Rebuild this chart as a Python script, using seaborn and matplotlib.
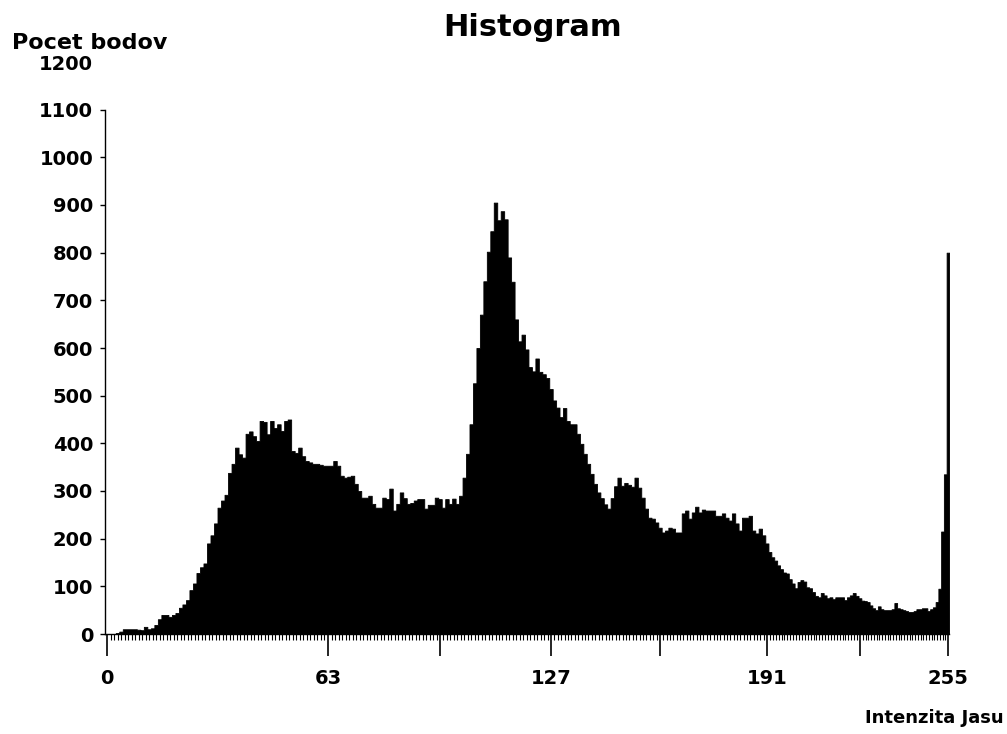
import numpy as np
import matplotlib
matplotlib.use("Agg")
import matplotlib.pyplot as plt
from matplotlib.ticker import MultipleLocator, FixedLocator
import seaborn as sns

# ---- data ----
intensity = list(range(256))
counts = [
    0, 0, 0, 2, 5, 10, 10, 10, 10, 9,                         # 0-9
    8, 15, 10, 12, 19, 31, 40, 40, 36, 40,                    # 10-19
    44, 55, 62, 71, 92, 106, 128, 140, 148, 190,              # 20-29
    207, 232, 265, 280, 292, 338, 357, 391, 377, 370,         # 30-39
    420, 425, 415, 405, 447, 445, 419, 447, 432, 440,         # 40-49
    426, 447, 450, 384, 380, 391, 373, 363, 360, 357,         # 50-59
    357, 355, 353, 353, 353, 363, 353, 332, 328, 330,         # 60-69
    332, 315, 300, 286, 286, 290, 273, 265, 265, 286,         # 70-79
    283, 305, 259, 273, 297, 285, 273, 275, 280, 283,         # 80-89
    283, 263, 271, 271, 286, 283, 265, 283, 273, 284,         # 90-99
    273, 290, 328, 378, 440, 526, 600, 670, 740, 802,         # 100-109
    845, 905, 868, 887, 870, 790, 739, 660, 614, 628,         # 110-119
    597, 560, 551, 578, 550, 545, 537, 514, 490, 475,         # 120-129
    455, 474, 447, 440, 440, 420, 399, 378, 357, 336,         # 130-139
    315, 297, 285, 272, 263, 285, 310, 328, 311, 317,         # 140-149
    313, 309, 328, 307, 286, 263, 244, 242, 234, 223,         # 150-159
    213, 217, 223, 221, 213, 213, 253, 259, 242, 255,         # 160-169
    267, 255, 261, 259, 259, 259, 248, 248, 253, 244,         # 170-179
    238, 253, 232, 217, 244, 244, 248, 217, 211, 221,         # 180-189
    207, 190, 172, 161, 154, 144, 136, 129, 127, 115,         # 190-199
    106, 96, 109, 113, 110, 98, 96, 88, 80, 77,               # 200-209
    86, 81, 75, 77, 73, 77, 77, 77, 71, 77,                   # 210-219
    81, 86, 80, 75, 70, 69, 67, 60, 54, 50,                   # 220-229
    58, 52, 50, 50, 50, 52, 65, 54, 52, 50,                   # 230-239
    48, 46, 46, 48, 52, 52, 54, 54, 48, 52,                   # 240-249
    56, 67, 95, 215, 335, 800,                                # 250-255
]
assert len(counts) == len(intensity)

major_ticks = [0, 63, 95, 127, 159, 191, 223, 255]
x_labels = ["0", "63", "", "127", "", "191", "", "255"]
y_ticks = list(range(0, 1300, 100))

title_text = "Histogram"
ylabel_text = "Pocet bodov"
xlabel_text = "Intenzita Jasu"

# The scanned original axis is not evenly spaced; reproduce its tick spacing
# with a piecewise-linear matplotlib FuncScale.
scale_values = [-1, 0, 63, 95, 127, 159, 191, 223, 255, 256]
scale_positions = [103.5, 107, 328, 440, 551, 660, 767, 860, 948, 950.75]


def fwd(v):
    return np.interp(v, scale_values, scale_positions)


def inv(p):
    return np.interp(p, scale_positions, scale_values)


# ---- styling ----
sns.set_style("ticks")
plt.rcParams["font.family"] = ["DejaVu Sans"]
plt.rcParams["font.weight"] = "bold"
plt.rcParams["text.color"] = "black"
plt.rcParams["xtick.color"] = "black"
plt.rcParams["ytick.color"] = "black"
plt.rcParams["axes.labelcolor"] = "black"

W, H = 1007, 734
x_left = float(fwd(-0.5))
x_right = float(fwd(255.5))
fig = plt.figure(figsize=(W / 100, H / 100), dpi=100)
ax = fig.add_axes([x_left / W, 1 - 634 / H, (x_right - x_left) / W, 572 / H])

sns.histplot(x=intensity, weights=counts, discrete=True, element="step",
             fill=True, color="black", alpha=1.0, linewidth=0.6,
             edgecolor="black", ax=ax)

# apply the non-uniform scale after drawing (polygon vertices are in data units)
ax.set_xscale("function", functions=(fwd, inv))
ax.set_xlim(-0.5, 255.5)
ax.set_ylim(0, 1200)

ax.xaxis.set_major_locator(FixedLocator(major_ticks))
ax.set_xticklabels(x_labels)
ax.xaxis.set_minor_locator(MultipleLocator(1))
ax.set_yticks(y_ticks)
ax.set_yticklabels([str(v) for v in y_ticks])

ax.tick_params(axis="x", which="major", length=16, width=1.2, pad=9,
               labelsize=14, direction="out", color="black")
ax.tick_params(axis="x", which="minor", length=4.5, width=0.8,
               direction="out", color="black")
ax.tick_params(axis="y", which="major", length=3.6, width=1.0, pad=5,
               labelsize=14, direction="out", color="black")
for lab in ax.get_xticklabels() + ax.get_yticklabels():
    lab.set_fontweight("bold")
    lab.set_color("black")
ax.yaxis.get_major_ticks()[-1].tick1line.set_visible(False)

ax.set_xlabel("")
ax.set_ylabel("")
sns.despine(ax=ax, top=True, right=True)
ax.spines["left"].set_bounds(0, 1100)
for s in ("left", "bottom"):
    ax.spines[s].set_linewidth(1.0)
    ax.spines[s].set_color("black")

fig.text(533 / W, 1 - 28 / H, title_text, ha="center", va="center",
         fontsize=22, fontweight="bold", color="black")
fig.text(12 / W, 1 - 43 / H, ylabel_text, ha="left", va="center",
         fontsize=16, fontweight="bold", color="black")
fig.text(1004 / W, 1 - 718 / H, xlabel_text, ha="right", va="center",
         fontsize=13, fontweight="bold", color="black")

fig.savefig("out.png", dpi=100, facecolor="white")
